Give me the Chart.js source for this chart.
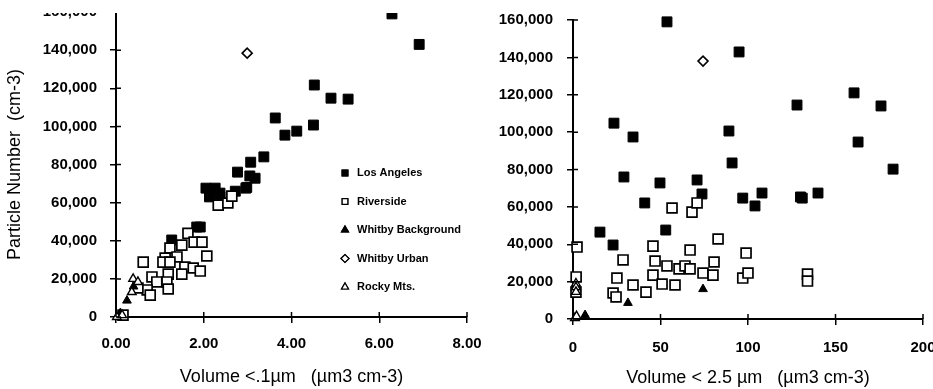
<!DOCTYPE html>
<html>
<head>
<meta charset="utf-8">
<script src="https://cdn.jsdelivr.net/npm/chart.js@4.4.1/dist/chart.umd.min.js"></script>
<style>
body { margin: 0; background: #fff; width: 933px; height: 389px; overflow: hidden; position: relative; }
#leftBox { position: absolute; left: 0; top: 13px; width: 485px; height: 376px; overflow: hidden; }
#leftInner { position: absolute; left: 0; top: -13px; width: 485px; height: 389px; }
#rightBox { position: absolute; left: 470px; top: 0; width: 470px; height: 389px; }
</style>
</head>
<body>
<div id="leftBox"><div id="leftInner"><canvas id="fineChart"></canvas></div></div>
<div id="rightBox"><canvas id="pm25Chart"></canvas></div>
<script>
// series names
const seriesNames = ["Los Angeles", "Riverside", "Whitby Background", "Whitby Urban", "Rocky Mts."];
const yTicks = [0, 20000, 40000, 60000, 80000, 100000, 120000, 140000, 160000];
const xTicksLeft = [0, 2, 4, 6, 8];
const xTicksRight = [0, 50, 100, 150, 200];

// left panel: volume < 0.1 um
const laXLeft = [6.29, 6.91, 4.52, 4.90, 5.29, 3.63, 3.85, 4.12, 4.50, 3.37, 3.07, 2.77, 3.05, 3.17, 2.96, 2.05, 2.26, 2.72, 2.13, 2.37, 2.37, 2.98, 1.84, 1.92, 1.27];
const laYLeft = [159000, 143000, 121700, 114800, 114300, 104400, 95400, 97500, 100700, 84000, 81200, 76000, 74000, 72800, 67600, 67600, 67600, 66000, 63000, 63000, 65000, 68000, 47200, 47200, 40400];
const rvXLeft = [2.33, 2.55, 2.64, 1.64, 1.78, 1.96, 2.07, 1.50, 1.23, 1.39, 1.12, 1.07, 1.23, 1.57, 1.76, 1.92, 1.19, 1.50, 0.62, 1.16, 1.19, 0.82, 0.93, 0.71, 0.78, 0.50, 0.16];
const rvYLeft = [58700, 59800, 63400, 43900, 39300, 39300, 32000, 37700, 36200, 31500, 30900, 28800, 28800, 26200, 25700, 24100, 22500, 22500, 28800, 18400, 14700, 21000, 18400, 14200, 11500, 15200, 1000];
const wbXLeft = [0.10, 0.25, 0.40];
const wbYLeft = [2100, 8600, 16000];
const wuXLeft = [2.99];
const wuYLeft = [138400];
const rmXLeft = [0.02, 0.14, 0.39, 0.50, 0.36];
const rmYLeft = [0, 1000, 20000, 18400, 13100];

// right panel: volume < 2.5 um
const laXRight = [53.7, 94.9, 128, 160.6, 176, 162.9, 182.9, 23.4, 34.3, 89.1, 90.9, 29.1, 49.7, 70.9, 73.7, 97, 108, 130, 140, 41, 104, 131, 15.4, 53, 22.9];
const laYRight = [159000, 142900, 114500, 121000, 114000, 94700, 80200, 104800, 97400, 100600, 83500, 76000, 72800, 74400, 66900, 64700, 67400, 65300, 67400, 62100, 60500, 64700, 46500, 47600, 39600];
const rvXRight = [56.6, 68, 70.9, 2.3, 1.8, 45.7, 66.9, 82.9, 98.9, 28.6, 46.9, 53.7, 60.6, 64, 66.9, 80.6, 45.7, 25.1, 74.3, 80, 97, 100, 134, 134, 34.3, 50.9, 58.3, 41.7, 22.9, 24.6, 1.7];
const rvYRight = [59400, 57200, 62100, 38500, 22500, 39000, 36900, 42800, 35300, 31600, 31000, 28400, 26800, 28400, 26800, 30500, 23500, 21900, 24600, 23500, 21900, 24600, 24000, 20300, 18200, 18700, 18200, 14400, 13900, 11800, 14400];
const wbXRight = [6.9, 31.4, 74.3];
const wbYRight = [2100, 8600, 16000];
const wuXRight = [74.3];
const wuYRight = [138000];
const rmXRight = [1.1, 2.0, 1.7, 1.7, 1.7];
const rmYRight = [500, 1500, 19000, 17000, 14500];

const styles = [
    {pointStyle: "rect", radius: 7, backgroundColor: "#000", borderColor: "#000", borderWidth: 1},
    {pointStyle: "rect", radius: 7, backgroundColor: "#fff", borderColor: "#000", borderWidth: 1.7},
    {pointStyle: "triangle", radius: 5, backgroundColor: "#000", borderColor: "#000", borderWidth: 1},
    {pointStyle: "rectRot", radius: 5, backgroundColor: "#fff", borderColor: "#000", borderWidth: 1.6},
    {pointStyle: "triangle", radius: 5, backgroundColor: "#fff", borderColor: "#000", borderWidth: 1.4}
];

function pts(xs, ys) {
    return xs.map((x, i) => ({x: x, y: ys[i]}));
}

function makeDatasets(groups) {
    return groups.map((g, i) => ({
        label: seriesNames[i],
        data: pts(g[0], g[1]),
        pointStyle: styles[i].pointStyle,
        pointRadius: styles[i].radius,
        pointBackgroundColor: styles[i].backgroundColor,
        pointBorderColor: styles[i].borderColor,
        pointBorderWidth: styles[i].borderWidth,
        clip: false
    })).reverse();
}

const tickFont = {family: "'Liberation Sans', Arial, sans-serif", size: 15, weight: "bold"};
const titleFont = {family: "'Liberation Sans', Arial, sans-serif", size: 18};

function axisGrid() {
    return {drawOnChartArea: false, drawTicks: true, tickLength: 6, color: "#000", lineWidth: 1.5};
}

// keep the plot box where the layout padding puts it
function fixX(h) {
    return (s) => { s.height = h; s.paddingLeft = 0; s.paddingRight = 0; };
}
function fixY(w) {
    return (s) => { s.width = w; s.paddingTop = 0; s.paddingBottom = 0; };
}

// tick marks also poke a little into the plot, like the original
const innerTicks = {
    id: "innerTicks",
    afterDraw(chart) {
        const ctx = chart.ctx;
        const xs = chart.scales.x;
        const ys = chart.scales.y;
        ctx.save();
        ctx.strokeStyle = "#000";
        ctx.lineWidth = 1.5;
        ctx.beginPath();
        ys.ticks.forEach(t => {
            const py = ys.getPixelForValue(t.value);
            ctx.moveTo(xs.left, py);
            ctx.lineTo(xs.left + 5, py);
        });
        xs.ticks.forEach(t => {
            const px = xs.getPixelForValue(t.value);
            ctx.moveTo(px, ys.bottom);
            ctx.lineTo(px, ys.bottom - 5);
        });
        ctx.stroke();
        ctx.restore();
    }
};

const insideLegend = {
    id: "insideLegend",
    afterDraw(chart) {
        const ctx = chart.ctx;
        const area = chart.chartArea;
        ctx.save();
        ctx.font = "bold 11px 'Liberation Sans', Arial, sans-serif";
        ctx.textBaseline = "middle";
        seriesNames.forEach((name, i) => {
            const x = area.left + 229;
            const y = 173 + i * 28.5;
            Chart.helpers.drawPoint(ctx, {
                pointStyle: styles[i].pointStyle,
                radius: 4,
                borderWidth: 1.2
            }, x, y);
            ctx.fillStyle = styles[i].backgroundColor;
            ctx.strokeStyle = "#000";
            ctx.lineWidth = 1.2;
            ctx.fill();
            ctx.stroke();
            ctx.fillStyle = "#000";
            ctx.fillText(name, x + 12, y);
        });
        ctx.restore();
    }
};

new Chart("fineChart", {
    type: "scatter",
    data: {
        datasets: makeDatasets([[laXLeft, laYLeft], [rvXLeft, rvYLeft], [wbXLeft, wbYLeft], [wuXLeft, wuYLeft], [rmXLeft, rmYLeft]])
    },
    options: {
        responsive: true,
        maintainAspectRatio: false,
        animation: false,
        layout: {autoPadding: false, padding: {top: 12, right: 18, bottom: 0, left: 0}},
        plugins: {legend: {display: false}, tooltip: {enabled: false}},
        scales: {
            x: {
                type: "linear", min: 0, max: 8,
                afterBuildTicks: (s) => { s.ticks = xTicksLeft.map(v => ({value: v})); },
                afterFit: fixX(72),
                ticks: {font: tickFont, color: "#000", padding: 12, maxRotation: 0, callback: (v) => v.toFixed(2)},
                grid: axisGrid(),
                border: {display: true, color: "#000", width: 2},
                title: {display: true, text: "Volume <.1\u00b5m   (\u00b5m3 cm-3)", font: titleFont, color: "#000", padding: {top: 0, bottom: 1}}
            },
            y: {
                type: "linear", min: 0, max: 160000,
                afterBuildTicks: (s) => { s.ticks = yTicks.map(v => ({value: v})); },
                afterFit: fixY(116),
                ticks: {font: tickFont, color: "#000", padding: 13, callback: (v) => v.toLocaleString("en-US")},
                grid: axisGrid(),
                border: {display: true, color: "#000", width: 2},
                title: {display: true, text: "Particle Number  (cm-3)", font: titleFont, color: "#000", padding: {top: 4, bottom: 0}}
            }
        }
    },
    plugins: [innerTicks, insideLegend]
});

new Chart("pm25Chart", {
    type: "scatter",
    data: {
        datasets: makeDatasets([[laXRight, laYRight], [rvXRight, rvYRight], [wbXRight, wbYRight], [wuXRight, wuYRight], [rmXRight, rmYRight]])
    },
    options: {
        responsive: true,
        maintainAspectRatio: false,
        animation: false,
        layout: {autoPadding: false, padding: {top: 20, right: 17, bottom: 0, left: 0}},
        plugins: {legend: {display: false}, tooltip: {enabled: false}},
        scales: {
            x: {
                type: "linear", min: 0, max: 200,
                afterBuildTicks: (s) => { s.ticks = xTicksRight.map(v => ({value: v})); },
                afterFit: fixX(70),
                ticks: {font: tickFont, color: "#000", padding: 14, maxRotation: 0},
                grid: axisGrid(),
                border: {display: true, color: "#000", width: 2},
                title: {display: true, text: "Volume < 2.5 \u00b5m   (\u00b5m3 cm-3)", font: titleFont, color: "#000", padding: {top: 0, bottom: 0}}
            },
            y: {
                type: "linear", min: 0, max: 160000,
                afterBuildTicks: (s) => { s.ticks = yTicks.map(v => ({value: v})); },
                afterFit: fixY(103),
                ticks: {font: tickFont, color: "#000", padding: 14, callback: (v) => v.toLocaleString("en-US")},
                grid: axisGrid(),
                border: {display: true, color: "#000", width: 2}
            }
        }
    },
    plugins: [innerTicks]
});
</script>
</body>
</html>
